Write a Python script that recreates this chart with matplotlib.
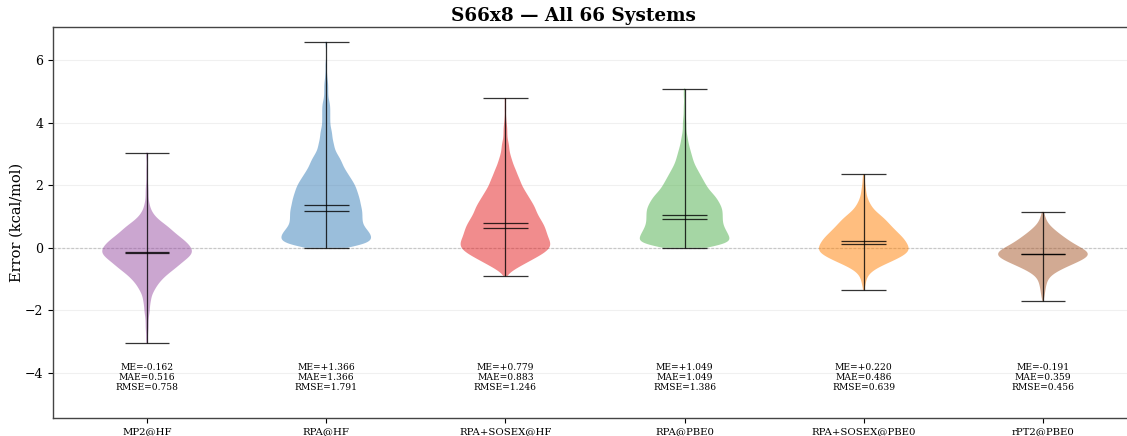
import numpy as np
import matplotlib
matplotlib.use("Agg")
import matplotlib.pyplot as plt

# S66x8 interaction-energy errors (kcal/mol), 66 systems x 8 separations per method,
# stored as counts in 0.1 kcal/mol bins (first bin centre given in bin_start)
methods = ["MP2@HF", "RPA@HF", "RPA+SOSEX@HF", "RPA@PBE0", "RPA+SOSEX@PBE0", "rPT2@PBE0"]
bin_width = 0.1
bin_start = [-3.0, 0.05, -0.85, 0.05, -1.3, -1.65]

counts_mp2_hf = [1, 1, 0, 1, 1, 1, 1, 1, 1, 2, 2, 2, 2, 3, 3, 3,
                 5, 6, 7, 9, 11, 13, 16, 19, 22, 24,
                 27, 30, 33, 33, 32,
                 30, 28, 25, 22, 19, 17, 15,
                 11, 8, 6, 4, 3, 2, 2,
                 1, 1, 1, 1, 1, 1, 0, 1, 0, 1, 0, 1, 0, 0, 1, 1]
counts_rpa_hf = [20, 22, 23, 23, 22, 21,
                 19, 18, 18, 18, 18, 18, 18, 17, 17, 17,
                 16, 16, 15, 15, 14, 13, 12, 11, 10, 9,
                 8, 8, 7, 6, 5, 4, 4, 4, 3, 3,
                 3, 3, 2, 2, 2, 2, 2, 2, 2, 2,
                 2, 1, 1, 1, 1, 1, 1, 1, 0, 1,
                 0, 0, 1, 0, 0, 0, 0, 0, 0, 1]
counts_sosex_hf = [1, 3, 6, 9, 12, 15, 18, 21, 23,
                   24, 24, 23, 22, 22, 21, 21, 20, 19, 18,
                   17, 16, 16, 15, 14, 13, 12, 11, 10, 9,
                   8, 8, 7, 6, 6, 5, 4, 4, 3, 3,
                   2, 2, 2, 2, 1, 1, 1, 1, 1, 1,
                   0, 1, 0, 0, 1, 0, 0, 1]
counts_rpa_pbe0 = [24, 27, 27, 26, 25, 24, 23, 22, 22, 22,
                   22, 22, 22, 21, 20, 19, 18, 16, 14, 13,
                   12, 11, 10, 9, 8, 7, 6, 5, 5, 4,
                   4, 3, 3, 2, 2, 2, 1, 1, 1, 1,
                   1, 1, 0, 1, 0, 1, 0, 0, 1, 0, 1]
counts_sosex_pbe0 = [1, 1, 2, 2, 3, 5, 8, 13, 19, 25, 30, 35, 38,
                     37, 36, 34, 33, 30, 27, 25, 22, 20, 18,
                     15, 12, 8, 7, 5, 4, 3, 2, 2, 2, 1, 1, 1, 1]
counts_rpt2_pbe0 = [1, 2, 2, 3, 3, 4, 5, 6, 10, 16,
                    23, 31, 39, 47, 53, 53, 46, 39, 32, 28,
                    23, 18, 14, 10, 6, 4, 3, 2, 1]

# Extremes, medians and summary statistics
err_min = [-3.05, 0.00, -0.90, 0.00, -1.35, -1.70]
err_max = [3.05, 6.60, 4.80, 5.10, 2.35, 1.15]
median_vals = [-0.15, 1.18, 0.62, 0.92, 0.13, -0.20]
me_vals = [-0.162, 1.366, 0.779, 1.049, 0.220, -0.191]
mae_vals = [0.516, 1.366, 0.883, 1.049, 0.486, 0.359]
rmse_vals = [0.758, 1.791, 1.246, 1.386, 0.639, 0.456]

colors = ["#984ea3", "#377eb8", "#e41a1c", "#4daf4a", "#ff7f00", "#a65628"]

counts = [counts_mp2_hf, counts_rpa_hf, counts_sosex_hf,
          counts_rpa_pbe0, counts_sosex_pbe0, counts_rpt2_pbe0]
positions = np.arange(1, len(methods) + 1)

plt.rcParams["font.family"] = ["DejaVu Serif"]
plt.rcParams["axes.unicode_minus"] = True


def weighted_kde(centres, weights, coords, h=0.13):
    z = (coords[:, None] - centres[None, :]) / h
    dens = (weights[None, :] * np.exp(-0.5 * z ** 2)).sum(axis=1)
    return dens / (weights.sum() * h * np.sqrt(2 * np.pi))


vpstats = []
for i, c in enumerate(counts):
    c = np.asarray(c, dtype=float)
    centres = bin_start[i] + bin_width * np.arange(len(c))
    coords = np.linspace(err_min[i], err_max[i], 300)
    vpstats.append(dict(coords=coords, vals=weighted_kde(centres, c, coords),
                        mean=me_vals[i], median=median_vals[i],
                        min=err_min[i], max=err_max[i]))

fig = plt.figure(figsize=(11.27, 4.36), dpi=100)
ax = fig.add_axes([53 / 1127, 18 / 436, 1084 / 1127, 391 / 436])

parts = ax.violin(vpstats, positions=positions, widths=0.5,
                  showmeans=True, showextrema=True, showmedians=True)
for body, col in zip(parts["bodies"], colors):
    body.set_facecolor(col)
    body.set_edgecolor("none")
    body.set_alpha(0.5)
for key in ("cbars", "cmins", "cmaxes", "cmeans", "cmedians"):
    parts[key].set_color("black")
    parts[key].set_linewidth(0.9)
    parts[key].set_alpha(0.8)

ax.axhline(0, color="gray", linestyle=(0, (2.5, 1.5)), linewidth=0.8,
           alpha=0.8, zorder=0)

for x, me, mae, rmse in zip(positions, me_vals, mae_vals, rmse_vals):
    ax.text(x, -3.68, f"ME={me:+.3f}\nMAE={mae:.3f}\nRMSE={rmse:.3f}",
            ha="center", va="top", fontsize=6.6, linespacing=1.15)

ax.set_ylim(-5.45, 7.07)
ax.set_xlim(0.475, 6.525)
ax.set_yticks([-4, -2, 0, 2, 4, 6])
ax.set_xticks(positions)
ax.set_xticklabels(methods, fontsize=7.3)
ax.tick_params(axis="y", labelsize=9)
ax.set_ylabel("Error (kcal/mol)", fontsize=10.5, labelpad=1)
ax.set_title("S66x8 \u2014 All 66 Systems", fontsize=13.2, fontweight="bold",
             pad=4, x=(573.5 - 53) / 1084)
ax.yaxis.grid(True, color="#e6e6e6", linewidth=0.8, alpha=0.6)
ax.set_axisbelow(True)
for sp in ax.spines.values():
    sp.set_color("#444444")
    sp.set_linewidth(1.0)

fig.savefig("out.png", dpi=100)
